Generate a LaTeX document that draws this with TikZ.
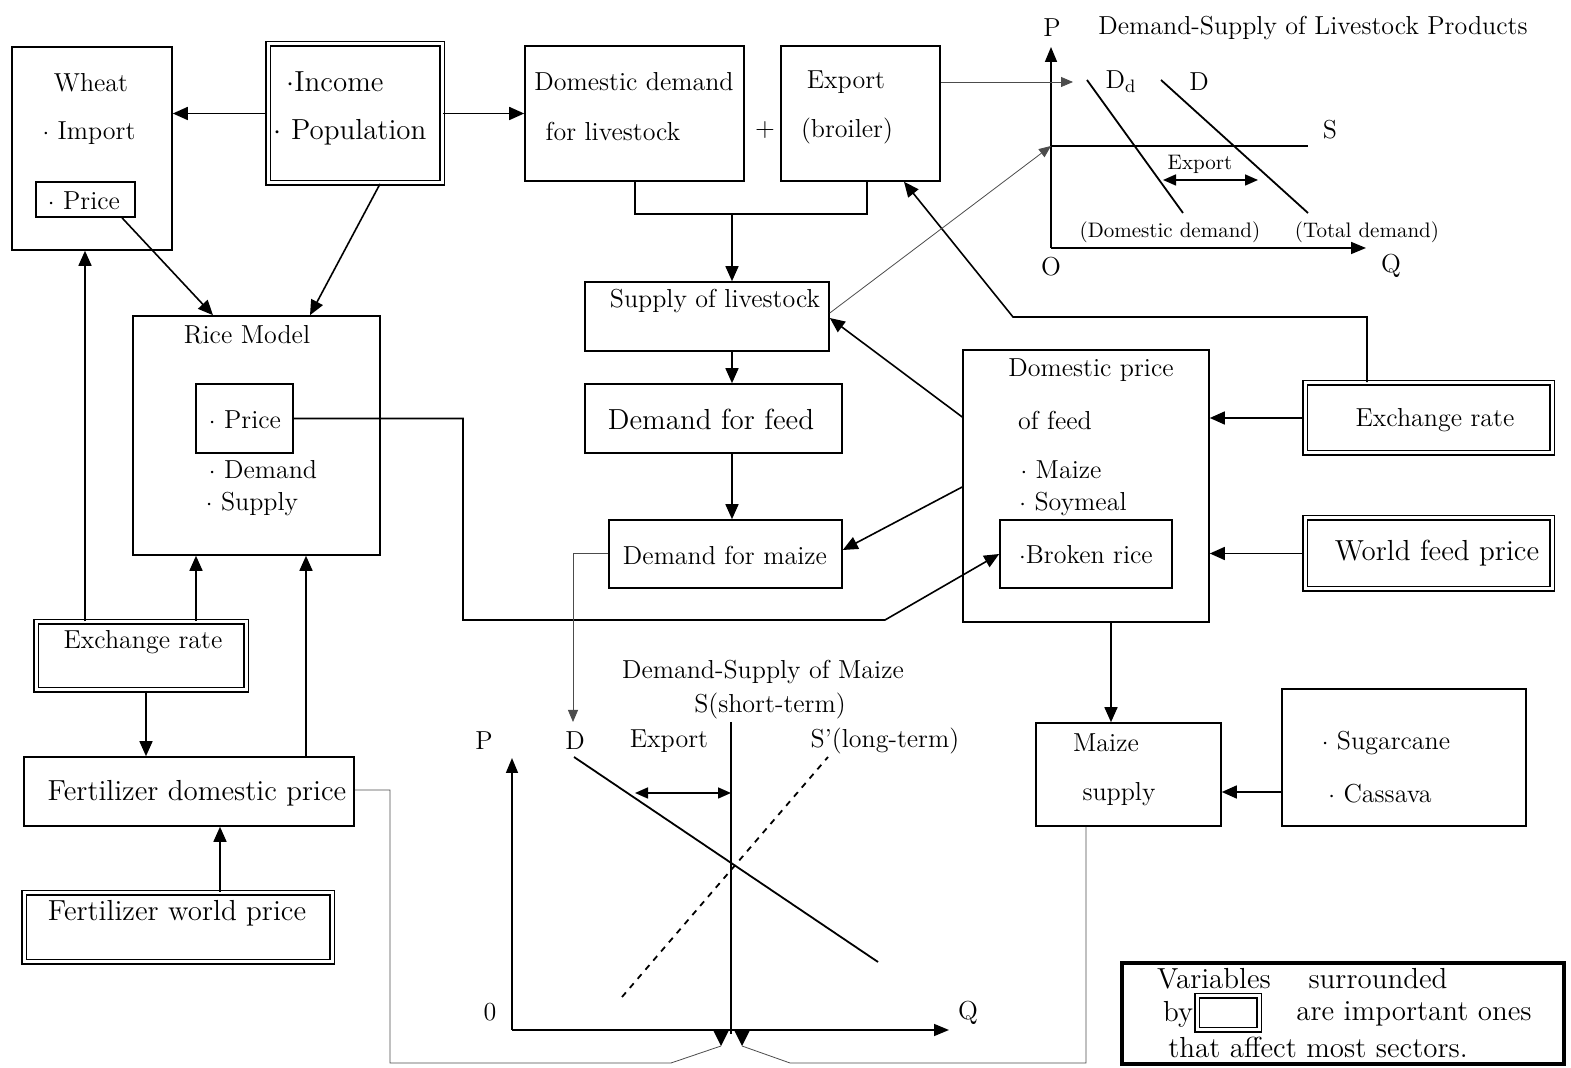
\documentclass[tikz,border=0pt]{standalone}
\usepackage{xcolor}
\usepackage{tikz}
\usetikzlibrary{arrows.meta,positioning,fit,calc}
\newcommand{\fbig}{\fontsize{14.5}{17}\selectfont}
\newcommand{\fmid}{\fontsize{13}{15}\selectfont}
\newcommand{\fsml}{\fontsize{10.5}{12}\selectfont}
\newcommand{\dotb}{$\cdot$}
\tikzset{
  box/.style={draw, line width=0.8pt, inner sep=0pt},
  keybox/.style={draw, double, double distance=1.5pt, line width=0.95pt, inner sep=0pt},
  lbl/.style={inner sep=1pt, font=\fmid},
  biglbl/.style={inner sep=1pt, font=\fbig},
  smlbl/.style={inner sep=1pt, font=\fsml},
  flow/.style={-{Triangle[length=7.5pt,width=6.5pt]}, line width=0.8pt},
  link/.style={line width=0.8pt},
  feed/.style={-{Triangle[length=6pt,width=5pt]}, line width=0.4pt, black!70},
  thinlink/.style={line width=0.4pt, black!70},
  axis/.style={-{Triangle[length=7.5pt,width=6pt]}, line width=0.8pt},
  curve/.style={line width=0.9pt},
  both/.style={{Triangle[length=6.5pt,width=5.5pt]}-{Triangle[length=6.5pt,width=5.5pt]}, line width=0.8pt},
}

\begin{document}
\begin{tikzpicture}[x=0.5pt, y=-0.5pt]
  \useasboundingbox (0,0) rectangle (1571,1068);

  % boxes
  \node[box, fit={(12,47) (172,250)}] (wheat) {};
  \node[box, fit={(36,182) (135,217)}] (wprice) {};
  \node[keybox, fit={(268,44) (442,183)}] (income) {};
  \node[box, fit={(525,46) (744,181)}] (domd) {};
  \node[box, fit={(781,46) (940,181)}] (expo) {};
  \node[box, fit={(585,282) (829,351)}] (supl) {};
  \node[box, fit={(585,384) (842,453)}] (dfeed) {};
  \node[box, fit={(609,520) (842,588)}] (dmaize) {};
  \node[box, fit={(133,316) (380,555)}] (rice) {};
  \node[box, fit={(196,384) (293,453)}] (rprice) {};
  \node[box, fit={(963,350) (1209,622)}] (dprice) {};
  \node[box, fit={(1000,520) (1172,588)}] (brice) {};
  \node[keybox, fit={(1305,383) (1552,453)}] (exr) {};
  \node[keybox, fit={(1305,518) (1552,589)}] (wfp) {};
  \node[keybox, fit={(36,622) (246,690)}] (exl) {};
  \node[box, fit={(24,757) (354,826)}] (fdom) {};
  \node[keybox, fit={(24,893) (332,962)}] (fworld) {};
  \node[box, fit={(1036,723) (1221,826)}] (msup) {};
  \node[box, fit={(1282,689) (1526,826)}] (sugar) {};
  \node[box, line width=1.6pt, fit={(1122,963) (1564,1064)}] (legend) {};
  \node[keybox, fit={(1197,996) (1259,1030)}] (legkey) {};

  % texts
  \node[lbl] at (91,83) {Wheat};
  \node[lbl] at (89,133) {\dotb\ Import};
  \node[lbl] at (84,201) {\dotb\ Price};
  \node[biglbl] at (335,82) {\dotb Income};
  \node[biglbl] at (350,132) {\dotb\ Population};
  \node[lbl] at (634,82) {Domestic demand};
  \node[lbl] at (613,131) {for livestock};
  \node[lbl] at (765,130) {+};
  \node[lbl] at (846,82) {Export};
  \node[lbl] at (847,131) {(broiler)};
  \node[lbl] at (715,301) {Supply of livestock};
  \node[biglbl] at (711,419) {Demand for feed};
  \node[lbl] at (725,555) {Demand for maize};
  \node[lbl] at (247,335) {Rice Model};
  \node[lbl] at (245,420) {\dotb\ Price};
  \node[lbl] at (263,470) {\dotb\ Demand};
  \node[lbl] at (252,504) {\dotb\ Supply};
  \node[lbl] at (1091,370) {Domestic price};
  \node[lbl] at (1055,420) {of feed};
  \node[lbl] at (1061,470) {\dotb\ Maize};
  \node[lbl] at (1073,504) {\dotb\ Soymeal};
  \node[lbl] at (1086,555) {\dotb Broken rice};
  \node[lbl] at (1435,420) {Exchange rate};
  \node[biglbl] at (1437,553) {World feed price};
  \node[lbl] at (143,642) {Exchange rate};
  \node[biglbl] at (197,793) {Fertilizer domestic price};
  \node[biglbl] at (177,913) {Fertilizer world price};
  \node[lbl] at (1106,743) {Maize};
  \node[lbl] at (1119,794) {supply};
  \node[lbl] at (1386,743) {\dotb\ Sugarcane};
  \node[lbl] at (1380,794) {\dotb\ Cassava};
  \node[biglbl] at (1214,979) {Variables};
  \node[biglbl] at (1378,979) {surrounded};
  \node[biglbl] at (1178,1014) {by};
  \node[biglbl] at (1414,1014) {are important ones};
  \node[biglbl] at (1318,1047) {that affect most sectors.};

  % arrows between boxes
  \draw[flow] (income.west) -- (income.west -| wheat.east);
  \draw[flow] (income.east) -- (income.east -| domd.west);
  \draw[flow] (380,0 |- income.south) -- (310,0 |- rice.north);
  \draw[flow] (122,0 |- wprice.south) -- (213,0 |- rice.north);
  \draw[flow] (85,0 |- exl.north) -- (85,0 |- wheat.south);
  \draw[flow] (196,0 |- exl.north) -- (196,0 |- rice.south);
  \draw[flow] (146,0 |- exl.south) -- (146,0 |- fdom.north);
  \draw[flow] (306,0 |- fdom.north) -- (306,0 |- rice.south);
  \draw[flow] (220,0 |- fworld.north) -- (220,0 |- fdom.south);
  \draw[flow] (rprice.east) -| (463,620) -- (885,620) -- (brice.west);
  \draw[link] (635,0 |- domd.south) |- (867,214) -- (867,0 |- expo.south);
  \draw[flow] (732,214) -- (732,0 |- supl.north);
  \draw[flow] (732,0 |- supl.south) -- (732,0 |- dfeed.north);
  \draw[flow] (732,0 |- dfeed.south) -- (732,0 |- dmaize.north);
  \draw[flow] (dprice.west |- 0,417) -- (supl.east |- 0,318);
  \draw[flow] (dprice.west |- 0,487) -- (dmaize.east |- 0,550);
  \draw[flow] (exr.west) -- (exr.west -| dprice.east);
  \draw[flow] (1367,0 |- exr.north) |- (1013,317) -- (904,0 |- expo.south);
  \draw[flow] (wfp.west) -- (wfp.west -| dprice.east);
  \draw[flow] (1111,0 |- dprice.south) -- (1111,0 |- msup.north);
  \draw[flow] (sugar.west |- 0,792) -- (msup.east |- 0,792);

  % livestock products graph
  \coordinate (lo) at (1051,248);
  \coordinate (ddtop) at (1073,80);
  \coordinate (sline) at (1051,146);
  \draw[axis] (lo) -- (1051,47);
  \draw[axis] (lo) -- (1366,248);
  \draw[curve] (sline) -- (1308,146);
  \draw[curve] (1087,80) -- (1183,213);
  \draw[curve] (1161,80) -- (1308,213);
  \draw[both] (1163,180) -- (1258,180);
  \node[lbl] at (1052,28) {P};
  \node[lbl] at (1313,28) {Demand-Supply of Livestock Products};
  \node[lbl] at (1121,82) {D$_{\mathrm{d}}$};
  \node[lbl] at (1199,82) {D};
  \node[lbl] at (1330,130) {S};
  \node[smlbl] at (1200,164) {Export};
  \node[smlbl] at (1170,232) {(Domestic demand)};
  \node[smlbl] at (1367,232) {(Total demand)};
  \node[lbl] at (1051,267) {O};
  \node[lbl] at (1391,266) {Q};
  \draw[feed] (expo.east |- 0,82) -- (ddtop |- 0,82);
  \draw[feed] (supl.east |- 0,313) -- (sline);

  % maize graph
  \coordinate (mo) at (512,1030);
  \coordinate (dlab) at (573,722);
  \coordinate (sfl) at (721,1046);
  \coordinate (sfr) at (742,1046);
  \draw[axis] (mo) -- (512,758);
  \draw[axis] (mo) -- (949,1030);
  \draw[curve] (731,722) -- (731,1034);
  \draw[curve] (574,757) -- (878,962);
  \draw[curve, dashed] (622,997) -- (828,757);
  \draw[both] (635,793) -- (731,793);
  \fill (713,1030) -- (729,1030) -- (sfl) -- cycle;
  \fill (734,1030) -- (750,1030) -- (sfr) -- cycle;
  \node[lbl] at (763,672) {Demand-Supply of Maize};
  \node[lbl] at (770,706) {S(short-term)};
  \node[lbl] at (484,741) {P};
  \node[lbl] at (575,741) {D};
  \node[lbl] at (669,741) {Export};
  \node[lbl] at (885,741) {S'(long-term)};
  \node[lbl] at (490,1012) {0};
  \node[lbl] at (968,1013) {Q};
  \draw[feed] (dmaize.west |- 0,553) -| (dlab);
  \draw[thinlink] (fdom.east |- 0,790) -| (390,1063) -- (671,1063) -- (sfl);
  \draw[thinlink] (msup.south -| 1086,0) -- (1086,1063) -- (790,1063) -- (sfr);
\end{tikzpicture}
\end{document}
